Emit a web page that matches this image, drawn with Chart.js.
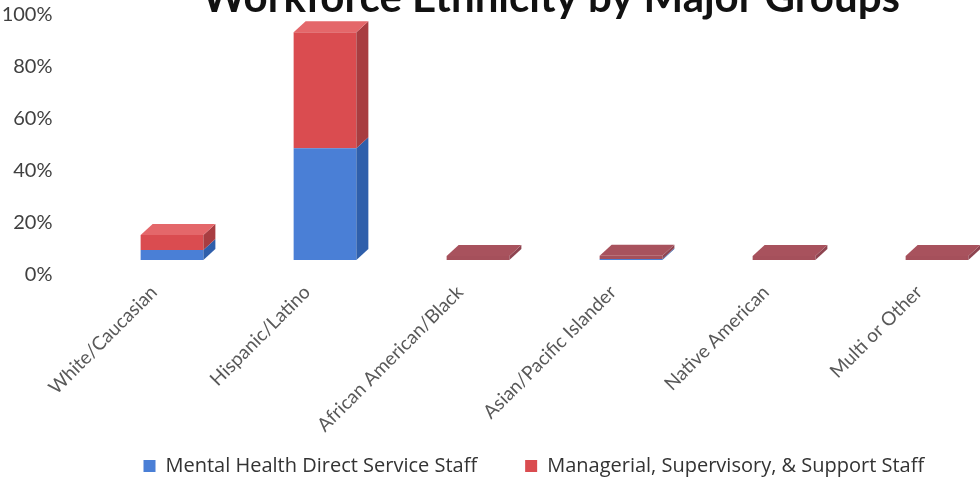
<!DOCTYPE html>
<html>
<head>
<meta charset="utf-8">
<title>Workforce Ethnicity by Major Groups</title>
<script src="https://cdn.jsdelivr.net/npm/chart.js@4/dist/chart.umd.min.js"></script>
<style>
  html, body { margin: 0; padding: 0; background: #fff; overflow: hidden; }
  #wrap { width: 1100px; height: 478px; }
</style>
</head>
<body>
<div id="wrap"><canvas id="ethnicityChart" width="1100" height="478"></canvas></div>
<script>
// ====== DATA ======
const chartTitle = 'Workforce Ethnicity by Major Groups';
const categories = ['White/Caucasian', 'Hispanic/Latino', 'African American/Black', 'Asian/Pacific Islander', 'Native American', 'Multi or Other'];
const directServiceStaff = [3.8, 43, 0, 0.4, 0, 0];
const supportStaff = [5.8, 44.6, 1.5, 1.2, 1.5, 1.5];
const seriesNames = ['Mental Health Direct Service Staff', 'Managerial, Supervisory, & Support Staff'];
const yTicks = [0, 20, 40, 60, 80, 100];

// ====== COLOURS ======
const blue = { front: '#4a7fd6', side: '#2f5fab', top: '#6a97e0' };
const red = { front: '#da4c50', side: '#a83d41', top: '#e4676a' };
const mauve = { front: '#a5505b', side: '#8e4450', top: '#a8525d' };

// depth of the fake 3D extrusion
const DX = 12, DY = -11;

function shadeFor(dsIndex, i) {
  if (dsIndex === 0) return blue;
  return supportStaff[i] > 2 ? red : mauve;
}

// side + top faces drawn from each bar element
const depthPlugin = {
  id: 'depth',
  afterLayout(chart) {
    // let the rotated category labels run down to the canvas bottom
    chart.scales.x.bottom = chart.height;
  },
  afterDatasetsDraw(chart) {
    const ctx = chart.ctx;
    ctx.save();
    chart.data.datasets.forEach((ds, d) => {
      const meta = chart.getDatasetMeta(d);
      meta.data.forEach((bar, i) => {
        const { x, y, base, width } = bar.getProps(['x', 'y', 'base', 'width'], true);
        if (Math.abs(base - y) < 0.01) return;
        const c = shadeFor(d, i);
        const l = x - width / 2, r = x + width / 2;
        ctx.fillStyle = c.side;
        ctx.beginPath();
        ctx.moveTo(r, y); ctx.lineTo(r + DX, y + DY);
        ctx.lineTo(r + DX, base + DY); ctx.lineTo(r, base);
        ctx.closePath(); ctx.fill();
        if (d === chart.data.datasets.length - 1) {
          ctx.fillStyle = c.top;
          ctx.beginPath();
          ctx.moveTo(l, y); ctx.lineTo(l + DX, y + DY);
          ctx.lineTo(r + DX, y + DY); ctx.lineTo(r, y);
          ctx.closePath(); ctx.fill();
        }
      });
    });
    ctx.restore();
  },
  afterDraw(chart) {
    // heading sits over the top of the plot, partly off the canvas
    const ctx = chart.ctx;
    ctx.save();
    ctx.font = 'bold 42px Lato';
    ctx.fillStyle = '#111';
    ctx.textAlign = 'center';
    ctx.textBaseline = 'alphabetic';
    ctx.fillText(chartTitle, 551, 12);
    ctx.restore();
  }
};

new Chart(document.getElementById('ethnicityChart'), {
  type: 'bar',
  data: {
    labels: categories,
    datasets: [
      {
        label: seriesNames[0],
        data: directServiceStaff,
        yAxisID: 'yBar',
        backgroundColor: blue.front,
        categoryPercentage: 1,
        barPercentage: 0.41,
      },
      {
        label: seriesNames[1],
        data: supportStaff,
        yAxisID: 'yBar',
        backgroundColor: c => (c.dataIndex !== undefined ? shadeFor(1, c.dataIndex).front : '#b04c58'),
        categoryPercentage: 1,
        barPercentage: 0.41,
      }
    ]
  },
  options: {
    responsive: false,
    animation: false,
    layout: { padding: { left: 0, right: 86.5, top: 15, bottom: -8 } },
    plugins: {
      title: { display: false },
      legend: {
        position: 'bottom',
        align: 'start',
        fullSize: false,
        labels: {
          color: '#333',
          font: { family: 'Open Sans', size: 20 },
          boxWidth: 12,
          boxHeight: 12,
          padding: 48
        }
      },
      tooltip: { enabled: false }
    },
    scales: {
      x: {
        stacked: true,
        grid: { display: false, drawTicks: false },
        border: { display: false },
        ticks: {
          color: '#595959',
          font: { family: 'Lato', size: 19 },
          minRotation: 45,
          maxRotation: 45,
          autoSkip: false,
          labelOffset: -18,
          padding: 6
        },
        afterFit: s => { s.height = 133; }
      },
      y: {
        min: 0,
        max: 100,
        afterBuildTicks: s => { s.ticks = yTicks.map(v => ({ value: v })); },
        // invisible tick marks push the labels out to the left edge
        grid: { display: false, drawTicks: true, tickLength: 43 },
        border: { display: false },
        ticks: {
          color: '#404040',
          font: { family: 'Lato', size: 20 },
          padding: 0,
          callback: v => v + '%'
        },
        afterFit: s => { s.width = 95.5; }
      },
      yBar: {
        display: false,
        stacked: true,
        min: -5.77,
        max: 94.23
      }
    }
  },
  plugins: [depthPlugin]
});
</script>
</body>
</html>
